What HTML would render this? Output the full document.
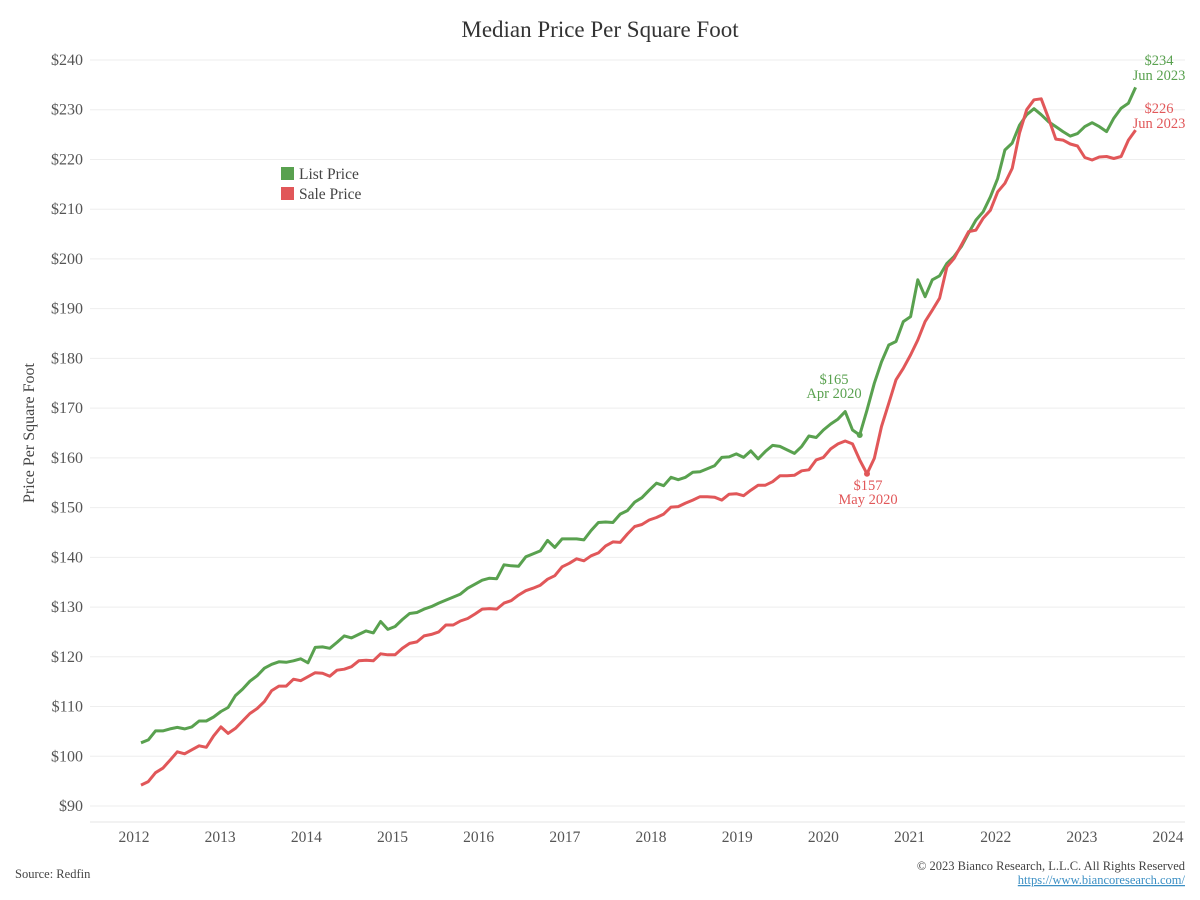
<!DOCTYPE html>
<html><head><meta charset="utf-8"><style>
body{margin:0;background:#fff;}
svg{display:block;font-family:"Liberation Serif",serif;}
</style></head><body>
<svg width="1200" height="900" viewBox="0 0 1200 900">
<g id="grid"></g>
<g id="yaxis"></g>
<g id="xaxis"></g>
<g id="series"></g>
<g id="ann"></g>
<text x="600" y="37" text-anchor="middle" font-size="23" fill="#333">Median Price Per Square Foot</text>
<text transform="translate(34,433) rotate(-90)" text-anchor="middle" font-size="16" fill="#444">Price Per Square Foot</text>
<g>
<rect x="281" y="167" width="13" height="13" fill="#59a14f"/>
<text x="299" y="179" font-size="15.5" fill="#444">List Price</text>
<rect x="281" y="187" width="13" height="13" fill="#e15759"/>
<text x="299" y="199" font-size="15.5" fill="#444">Sale Price</text>
</g>
<text x="15" y="878" font-size="12.5" fill="#444">Source: Redfin</text>
<text x="1185" y="870" text-anchor="end" font-size="12.5" fill="#444">© 2023 Bianco Research, L.L.C. All Rights Reserved</text>
<text x="1185" y="884" text-anchor="end" font-size="12.5" fill="#3b8fc4" text-decoration="underline">https://www.biancoresearch.com/</text>
</svg>
<script>
const yTicks = [90,100,110,120,130,140,150,160,170,180,190,200,210,220,230,240];
const xTickYears = [2012,2013,2014,2015,2016,2017,2018,2019,2020,2021,2022,2023,2024];
const startYear = 2012;
const listPrice = [102.7,103.3,105.1,105.1,105.5,105.8,105.5,105.9,107.1,107.1,107.9,109,109.8,112.2,113.5,115.1,116.2,117.7,118.5,119,118.9,119.2,119.6,118.8,121.9,122,121.7,122.9,124.2,123.8,124.5,125.2,124.8,127.1,125.5,126.1,127.5,128.7,128.9,129.6,130.1,130.8,131.4,132,132.6,133.8,134.6,135.4,135.8,135.7,138.5,138.3,138.2,140.1,
140.7,141.3,143.4,142,143.7,143.7,143.7,143.5,145.4,147,147.1,147,148.7,149.4,151.1,152,153.5,154.9,154.4,156.1,155.6,156.1,157.1,157.2,157.8,158.4,160.1,160.2,160.8,160.1,161.4,159.8,161.3,162.5,162.3,161.6,160.9,162.3,164.4,164.1,165.6,166.8,167.8,169.3,165.6,164.6,
169.6,175,179.3,182.7,183.4,187.4,188.4,195.8,192.4,195.8,196.6,199.1,200.5,202.5,205.2,207.8,209.5,212.5,216.2,221.9,223.3,226.9,229,230.2,229,227.6,226.6,225.6,224.7,225.2,226.6,227.4,226.6,225.6,228.3,230.3,231.3,234.5];
const salePrice = [94.2,94.9,96.7,97.6,99.2,100.9,100.5,101.3,102.1,101.8,104.1,105.9,104.6,105.6,107.1,108.6,109.6,111,113.2,114.1,114.1,115.5,115.2,116,116.8,116.7,116.1,117.3,117.5,118,119.2,119.3,119.2,120.6,120.4,120.4,121.7,122.7,123,124.2,124.5,125,126.4,126.4,127.2,127.7,128.6,129.6,129.7,129.6,130.8,131.3,132.4,133.3,
133.8,134.4,135.6,136.3,138.1,138.8,139.7,139.3,140.3,140.9,142.3,143.1,143,144.7,146.2,146.6,147.5,148,148.7,150.1,150.2,150.9,151.5,152.2,152.2,152.1,151.5,152.7,152.8,152.4,153.5,154.5,154.5,155.2,156.4,156.4,156.5,157.4,157.6,159.6,160.1,161.8,162.8,163.4,162.8,159.6,156.8,
159.9,166.3,171,175.7,178,180.7,183.7,187.4,189.7,192.1,198.4,200.1,202.8,205.5,205.8,208.2,209.8,213.5,215.2,218.2,225.3,230,232,232.2,228.3,224.1,223.9,223.1,222.7,220.4,219.9,220.5,220.6,220.2,220.6,223.9,225.9];
const listLabels = [["$165","Apr 2020",99],["$234","Jun 2023",137]];
const saleLabels = [["$157","May 2020",100],["$226","Jun 2023",137]];

const NS="http://www.w3.org/2000/svg";
function yScale(v){return 806-(v-90)*(746/150);}
function xIdx(i){return 141+i*7.26;}
function xYear(y){return 134+(y-startYear)*86.17;}
function mk(tag,attrs,parent){const e=document.createElementNS(NS,tag);for(const k in attrs)e.setAttribute(k,attrs[k]);parent.appendChild(e);return e;}
const grid=document.getElementById('grid'),ya=document.getElementById('yaxis'),xa=document.getElementById('xaxis'),ser=document.getElementById('series'),ann=document.getElementById('ann');
yTicks.forEach(v=>{
  const l=mk('line',{x1:90,x2:1185,y1:yScale(v),y2:yScale(v),stroke:'#eeeeee','stroke-width':1},grid);
  
  
  const t=mk('text',{x:83,y:yScale(v)+5,'text-anchor':'end','font-size':16,fill:'#555'},ya);
  t.textContent='$'+v;
  
  
});
const ax=mk('line',{x1:90,x2:1185,y1:822,y2:822,stroke:'#e6e6e6','stroke-width':1},xa);


xTickYears.forEach(y=>{
  const t=mk('text',{x:xYear(y),y:842,'text-anchor':'middle','font-size':15.5,fill:'#555'},xa);
  t.textContent=y;
  
  
});
function drawLine(data,color,name){
  const d=data.map((v,i)=>(i?'L':'M')+xIdx(i).toFixed(1)+','+yScale(v).toFixed(1)).join(' ');
  const p=mk('path',{d:d,fill:'none',stroke:color,'stroke-width':3,'stroke-linejoin':'round'},ser);
  
  
}
drawLine(listPrice,'#59a14f','list-price-line');
drawLine(salePrice,'#e15759','sale-price-line');
function label(txt,x,y,color,name){
  const t=mk('text',{x:x,y:y,'text-anchor':'middle','font-size':14.5,fill:color},ann);
  t.textContent=txt;
  
  
}
{const [a,b,i]=listLabels[0];const c=mk('circle',{cx:xIdx(i),cy:yScale(listPrice[i]),r:3,fill:'#59a14f'},ann);


label(a,834,384,'#59a14f','list-low-value');label(b,834,398,'#59a14f','list-low-date');}
{const [a,b,i]=listLabels[1];label(a,1159,65,'#59a14f','list-last-value');label(b,1159,80,'#59a14f','list-last-date');}
{const [a,b,i]=saleLabels[0];const c=mk('circle',{cx:xIdx(i),cy:yScale(salePrice[i]),r:3,fill:'#e15759'},ann);


label(a,868,490,'#e15759','sale-low-value');label(b,868,504,'#e15759','sale-low-date');}
{const [a,b,i]=saleLabels[1];label(a,1159,113,'#e15759','sale-last-value');label(b,1159,128,'#e15759','sale-last-date');}
</script>
</body></html>
